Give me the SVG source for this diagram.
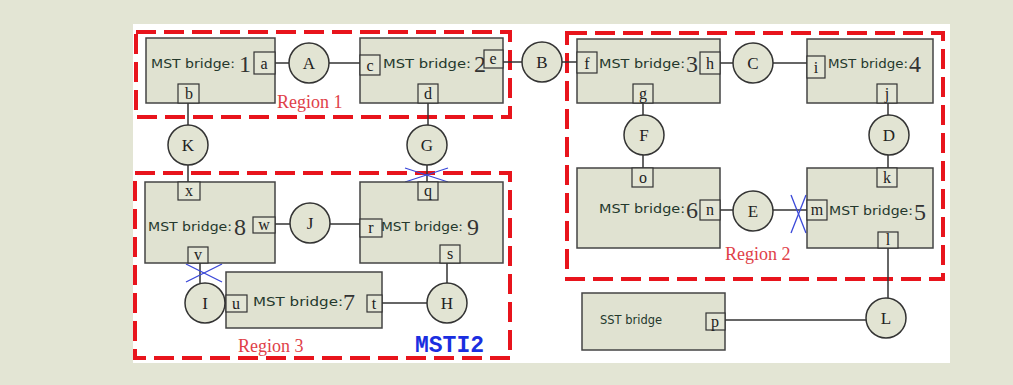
<svg xmlns="http://www.w3.org/2000/svg" width="1013" height="385" viewBox="0 0 1013 385">
<style>
.bg{fill:#e3e5d4}
.panel{fill:#ffffff}
.region{fill:none;stroke:#e8141c;stroke-width:4;stroke-dasharray:20 8}
.br{fill:#e0e2d1;stroke:#444;stroke-width:1.5}
.port{fill:#e4e6d6;stroke:#333;stroke-width:1.2}
.pt{font-family:"Liberation Serif",serif;font-size:16px;fill:#222;text-anchor:middle}
.node circle{fill:#e2e4d3;stroke:#333;stroke-width:1.5}
.ct{font-family:"Liberation Serif",serif;font-size:17px;fill:#222;text-anchor:middle}
.mst{font-family:"DejaVu Sans",sans-serif;font-size:12px;fill:#24382c}
.num{font-family:"Liberation Serif",serif;font-size:24px;fill:#333}
.conn line{stroke:#333;stroke-width:1.5}
.x line{stroke:#3a48d8;stroke-width:1.3}
.rt{font-family:"Liberation Serif",serif;font-size:18px;fill:#e04048}
</style>
<rect class="bg" x="0" y="0" width="1013" height="385"/>
<rect class="panel" x="133" y="24" width="817" height="339"/>

<g id="regions">
<rect class="region" x="136" y="32" width="374" height="85"/>
<rect class="region" x="567" y="33" width="376" height="246"/>
<rect class="region" x="135" y="173" width="375" height="185"/>
<text class="rt" x="277" y="108">Region 1</text>
<text class="rt" x="725" y="260">Region 2</text>
<text class="rt" x="238" y="352">Region 3</text>
<text x="415" y="352" font-family="Liberation Mono,monospace" font-weight="bold" font-size="23" fill="#1a2ee0">MSTI2</text>
</g>

<g class="conn" id="connectors">
<line x1="275" y1="63" x2="289" y2="63"/>
<line x1="329" y1="63" x2="360" y2="63"/>
<line x1="503" y1="62" x2="522" y2="62"/>
<line x1="562" y1="62" x2="577" y2="62"/>
<line x1="720" y1="63" x2="733" y2="63"/>
<line x1="773" y1="63" x2="807" y2="63"/>
<line x1="188" y1="103" x2="188" y2="125"/>
<line x1="188" y1="165" x2="188" y2="182"/>
<line x1="428" y1="103" x2="428" y2="125"/>
<line x1="427" y1="165" x2="427" y2="182"/>
<line x1="643" y1="103" x2="643" y2="115"/>
<line x1="643" y1="155" x2="643" y2="168"/>
<line x1="888" y1="103" x2="888" y2="115"/>
<line x1="888" y1="155" x2="888" y2="168"/>
<line x1="720" y1="210" x2="733" y2="210"/>
<line x1="773" y1="210" x2="807" y2="210"/>
<line x1="888" y1="248" x2="888" y2="298"/>
<line x1="725" y1="320" x2="866" y2="320"/>
<line x1="275" y1="224" x2="290" y2="224"/>
<line x1="330" y1="224" x2="360" y2="224"/>
<line x1="200" y1="263" x2="200" y2="284"/>
<line x1="225" y1="303" x2="226" y2="303"/>
<line x1="447" y1="263" x2="447" y2="283"/>
<line x1="382" y1="303" x2="427" y2="303"/>
</g>

<g class="x" id="blocked">
<line x1="405" y1="168" x2="448" y2="182"/><line x1="405" y1="182" x2="448" y2="168"/>
<line x1="186" y1="264" x2="222" y2="282"/><line x1="186" y1="282" x2="222" y2="264"/>
<line x1="791" y1="195" x2="806" y2="233"/><line x1="806" y1="195" x2="791" y2="233"/>
</g>

<g id="bridge1">
<rect class="br" x="146" y="38" width="129" height="65"/>
<text class="mst" x="151" y="68" textLength="84" lengthAdjust="spacingAndGlyphs">MST bridge:</text>
<text class="num" x="239" y="72">1</text>
<rect class="port" x="254" y="52" width="21" height="22"/><text class="pt" x="264" y="69">a</text>
<rect class="port" x="178" y="84" width="21" height="19"/><text class="pt" x="189" y="99">b</text>
</g>
<g id="bridge2">
<rect class="br" x="360" y="38" width="143" height="65"/>
<text class="mst" x="383" y="68" textLength="88" lengthAdjust="spacingAndGlyphs">MST bridge:</text>
<text class="num" x="474" y="72">2</text>
<rect class="port" x="360" y="55" width="20" height="20"/><text class="pt" x="370" y="71">c</text>
<rect class="port" x="484" y="50" width="19" height="18"/><text class="pt" x="493" y="64">e</text>
<rect class="port" x="418" y="84" width="20" height="19"/><text class="pt" x="428" y="99">d</text>
</g>
<g id="bridge3">
<rect class="br" x="577" y="39" width="143" height="64"/>
<text class="mst" x="599" y="68" textLength="86" lengthAdjust="spacingAndGlyphs">MST bridge:</text>
<text class="num" x="686" y="72">3</text>
<rect class="port" x="577" y="52" width="20" height="21"/><text class="pt" x="587" y="69">f</text>
<rect class="port" x="700" y="52" width="20" height="22"/><text class="pt" x="710" y="69">h</text>
<rect class="port" x="633" y="84" width="20" height="19"/><text class="pt" x="643" y="99">g</text>
</g>
<g id="bridge4">
<rect class="br" x="807" y="39" width="126" height="64"/>
<text class="mst" x="828" y="68" textLength="80" lengthAdjust="spacingAndGlyphs">MST bridge:</text>
<text class="num" x="909" y="72">4</text>
<rect class="port" x="807" y="56" width="18" height="22"/><text class="pt" x="816" y="73">i</text>
<rect class="port" x="877" y="84" width="20" height="19"/><text class="pt" x="887" y="99">j</text>
</g>
<g id="bridge6">
<rect class="br" x="577" y="168" width="143" height="80"/>
<text class="mst" x="599" y="213" textLength="86" lengthAdjust="spacingAndGlyphs">MST bridge:</text>
<text class="num" x="686" y="218">6</text>
<rect class="port" x="632" y="168" width="21" height="19"/><text class="pt" x="643" y="183">o</text>
<rect class="port" x="700" y="200" width="20" height="20"/><text class="pt" x="710" y="215">n</text>
</g>
<g id="bridge5">
<rect class="br" x="807" y="168" width="126" height="80"/>
<text class="mst" x="829" y="215" textLength="84" lengthAdjust="spacingAndGlyphs">MST bridge:</text>
<text class="num" x="914" y="220">5</text>
<rect class="port" x="877" y="168" width="20" height="19"/><text class="pt" x="887" y="183">k</text>
<rect class="port" x="807" y="200" width="20" height="20"/><text class="pt" x="817" y="215">m</text>
<rect class="port" x="878" y="232" width="20" height="16"/><text class="pt" x="888" y="245">l</text>
</g>
<g id="sst">
<rect class="br" x="582" y="293" width="143" height="57"/>
<text x="600" y="324" font-family="DejaVu Sans,sans-serif" font-size="12" fill="#24382c" textLength="62" lengthAdjust="spacingAndGlyphs">SST bridge</text>
<rect class="port" x="706" y="313" width="19" height="17"/><text class="pt" x="715" y="327">p</text>
</g>
<g id="bridge8">
<rect class="br" x="145" y="182" width="130" height="81"/>
<text class="mst" x="148" y="231" textLength="84" lengthAdjust="spacingAndGlyphs">MST bridge:</text>
<text class="num" x="234" y="235">8</text>
<rect class="port" x="178" y="182" width="22" height="18"/><text class="pt" x="189" y="196">x</text>
<rect class="port" x="253" y="217" width="22" height="16"/><text class="pt" x="264" y="230">w</text>
<rect class="port" x="188" y="247" width="20" height="16"/><text class="pt" x="198" y="260">v</text>
</g>
<g id="bridge9">
<rect class="br" x="360" y="182" width="143" height="81"/>
<text class="mst" x="381" y="231" textLength="82" lengthAdjust="spacingAndGlyphs">MST bridge:</text>
<text class="num" x="467" y="235">9</text>
<rect class="port" x="418" y="182" width="20" height="18"/><text class="pt" x="428" y="196">q</text>
<rect class="port" x="360" y="219" width="22" height="18"/><text class="pt" x="371" y="233">r</text>
<rect class="port" x="440" y="245" width="20" height="18"/><text class="pt" x="450" y="259">s</text>
</g>
<g id="bridge7">
<rect class="br" x="226" y="272" width="156" height="56"/>
<text class="mst" x="253" y="306" textLength="90" lengthAdjust="spacingAndGlyphs">MST bridge:</text>
<text class="num" x="343" y="310">7</text>
<rect class="port" x="226" y="295" width="21" height="17"/><text class="pt" x="236" y="309">u</text>
<rect class="port" x="367" y="295" width="15" height="17"/><text class="pt" x="374" y="309">t</text>
</g>

<g class="node" id="nodeA"><circle cx="309" cy="63" r="20"/><text class="ct" x="309" y="69">A</text></g>
<g class="node" id="nodeB"><circle cx="542" cy="62" r="20"/><text class="ct" x="542" y="68">B</text></g>
<g class="node" id="nodeC"><circle cx="753" cy="63" r="20"/><text class="ct" x="753" y="69">C</text></g>
<g class="node" id="nodeK"><circle cx="188" cy="145" r="20"/><text class="ct" x="188" y="151">K</text></g>
<g class="node" id="nodeG"><circle cx="427" cy="145" r="20"/><text class="ct" x="427" y="151">G</text></g>
<g class="node" id="nodeF"><circle cx="644" cy="135" r="20"/><text class="ct" x="644" y="141">F</text></g>
<g class="node" id="nodeD"><circle cx="889" cy="135" r="20"/><text class="ct" x="889" y="141">D</text></g>
<g class="node" id="nodeE"><circle cx="753" cy="211" r="20"/><text class="ct" x="753" y="217">E</text></g>
<g class="node" id="nodeJ"><circle cx="310" cy="223" r="20"/><text class="ct" x="310" y="229">J</text></g>
<g class="node" id="nodeI"><circle cx="205" cy="303" r="20"/><text class="ct" x="205" y="309">I</text></g>
<g class="node" id="nodeH"><circle cx="447" cy="303" r="20"/><text class="ct" x="447" y="309">H</text></g>
<g class="node" id="nodeL"><circle cx="886" cy="318" r="20"/><text class="ct" x="886" y="324">L</text></g>
</svg>
